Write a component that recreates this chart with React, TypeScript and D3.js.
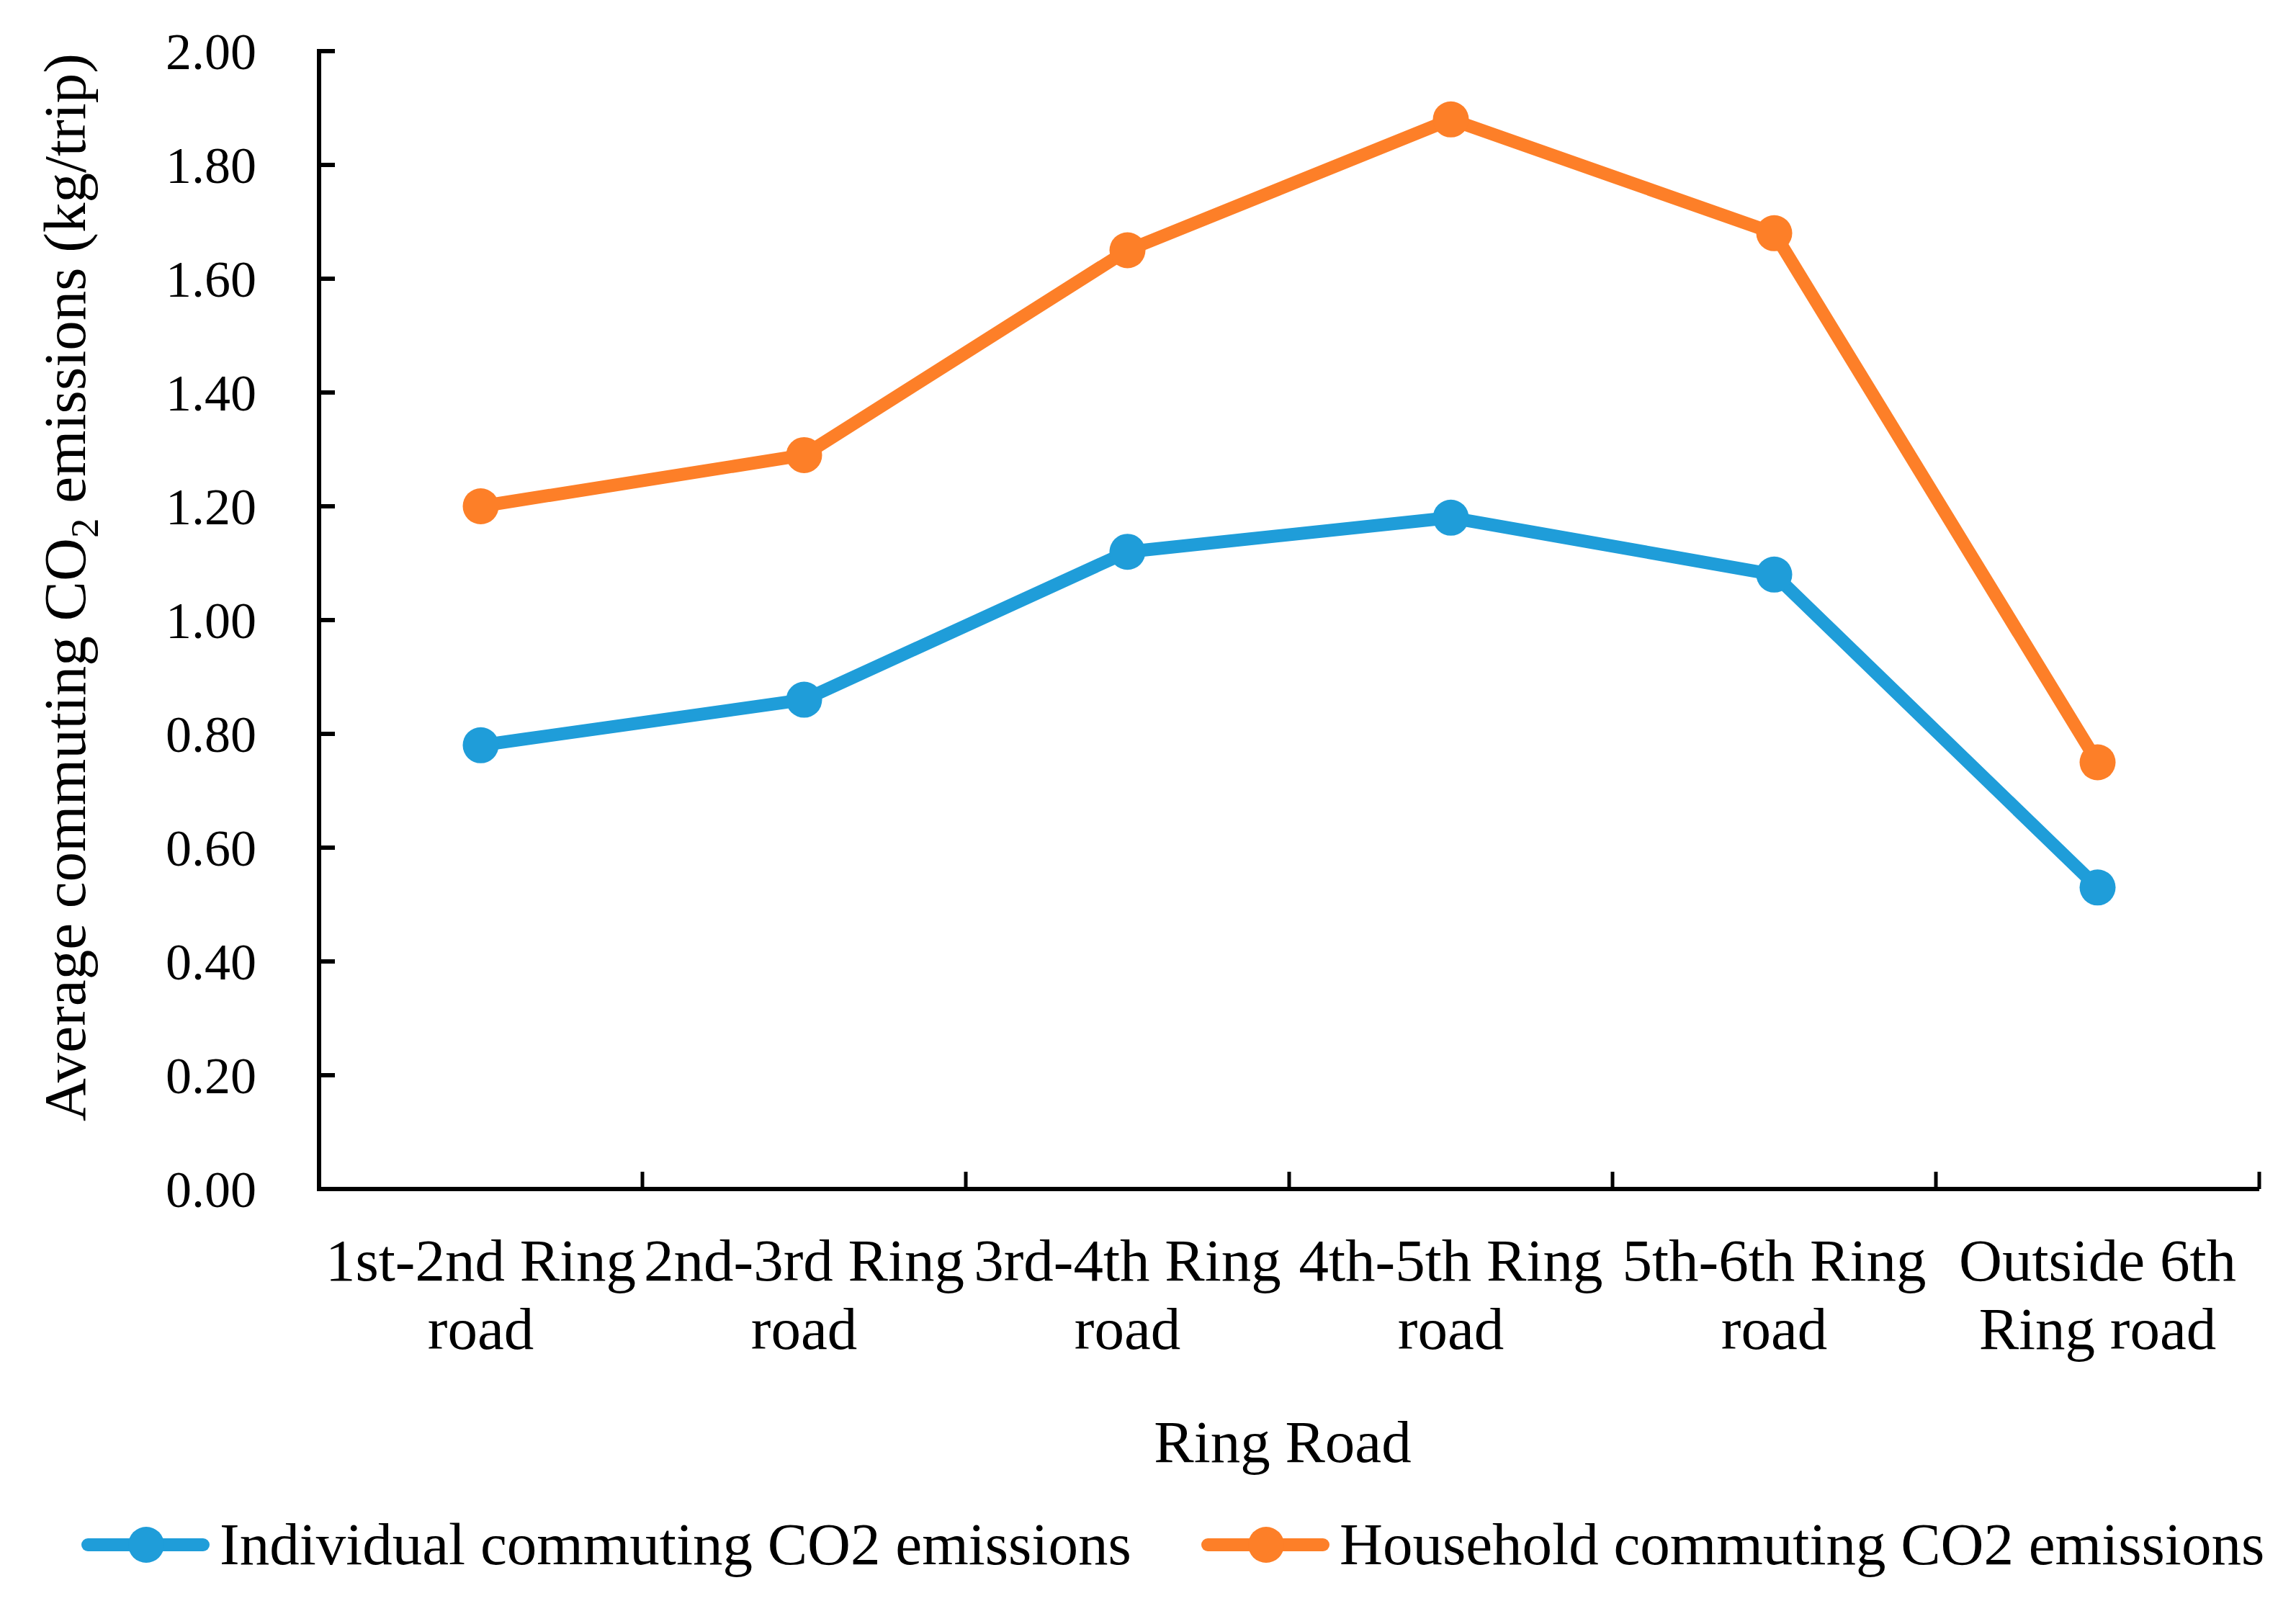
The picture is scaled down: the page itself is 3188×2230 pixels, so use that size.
import React from 'react';
import * as d3 from 'd3';

const categories = [
  ['1st-2nd Ring', 'road'],
  ['2nd-3rd Ring', 'road'],
  ['3rd-4th Ring', 'road'],
  ['4th-5th Ring', 'road'],
  ['5th-6th Ring', 'road'],
  ['Outside 6th', 'Ring road'],
];
const individual = [0.78, 0.86, 1.12, 1.18, 1.08, 0.53];
const household = [1.2, 1.29, 1.65, 1.88, 1.68, 0.75];
const yTicks = [0, 0.2, 0.4, 0.6, 0.8, 1.0, 1.2, 1.4, 1.6, 1.8, 2.0];

const W = 3188;
const H = 2230;
const FONT = '"Liberation Serif", "Times New Roman", serif';
const BLUE = '#1f9dd9';
const ORANGE = '#fd7f28';

const App: React.FC = () => {
  const left = 443, right = 3137, top = 71, bottom = 1651;

  const x = d3.scaleBand<number>()
    .domain(d3.range(categories.length))
    .range([left, right]);
  const y = d3.scaleLinear().domain([0, 2]).range([bottom, top]);
  const cx = (i: number) => (x(i) as number) + x.bandwidth() / 2;

  const line = d3.line<number>()
    .x((_, i) => cx(i))
    .y(d => y(d));

  const series = [
    { name: 'Individual commuting CO2 emissions', values: individual, color: BLUE, lx: 122 },
    { name: 'Household commuting CO2 emissions', values: household, color: ORANGE, lx: 1677 },
  ];

  return (
    <svg width={W} height={H} style={{ position: 'absolute', left: 0, top: 0, background: '#fff' }}
      fontFamily={FONT}>
      <rect width={W} height={H} fill="#fff" />

      {/* y axis */}
      <line x1={left} x2={left} y1={top - 3} y2={bottom} stroke="#000" strokeWidth={6} />
      {yTicks.map(t => (
        <g key={t}>
          <line x1={left} x2={left + 22} y1={y(t)} y2={y(t)} stroke="#000" strokeWidth={6} />
          <text x={356} y={y(t)} dy="0.35em" textAnchor="end" fontSize={72}>{t.toFixed(2)}</text>
        </g>
      ))}

      {/* x axis */}
      <line x1={left - 3} x2={right} y1={bottom} y2={bottom} stroke="#000" strokeWidth={6} />
      {d3.range(1, categories.length + 1).map(i => {
        const xx = i < categories.length ? (x(i) as number) : right;
        return <line key={i} x1={xx} x2={xx} y1={bottom} y2={bottom - 24} stroke="#000" strokeWidth={5} />;
      })}
      {categories.map((c, i) => (
        <text key={i} x={cx(i)} textAnchor="middle" fontSize={83}>
          <tspan x={cx(i)} y={1778}>{c[0]}</tspan>
          <tspan x={cx(i)} y={1873}>{c[1]}</tspan>
        </text>
      ))}
      <text x={1781} y={2030} textAnchor="middle" fontSize={83}>Ring Road</text>

      {/* y title */}
      <text transform={`translate(118, ${(top + 1560) / 2}) rotate(-90)`} textAnchor="middle" fontSize={83}>
        Average commuting CO<tspan fontSize={55} dy={18}>2</tspan><tspan dy={-18}> emissions (kg/trip)</tspan>
      </text>

      {/* series */}
      {series.map(s => (
        <g key={s.name}>
          <path d={line(s.values) || ''} fill="none" stroke={s.color} strokeWidth={18} strokeLinejoin="round" />
          {s.values.map((v, i) => (
            <circle key={i} cx={cx(i)} cy={y(v)} r={25} fill={s.color} />
          ))}
        </g>
      ))}

      {/* legend */}
      {series.map(s => (
        <g key={'lg' + s.name}>
          <line x1={s.lx} x2={s.lx + 160} y1={2145} y2={2145} stroke={s.color} strokeWidth={18} strokeLinecap="round" />
          <circle cx={s.lx + 81} cy={2145} r={25} fill={s.color} />
          <text x={s.lx + 183} y={2172} fontSize={83}>{s.name}</text>
        </g>
      ))}
    </svg>
  );
};

export default App;
